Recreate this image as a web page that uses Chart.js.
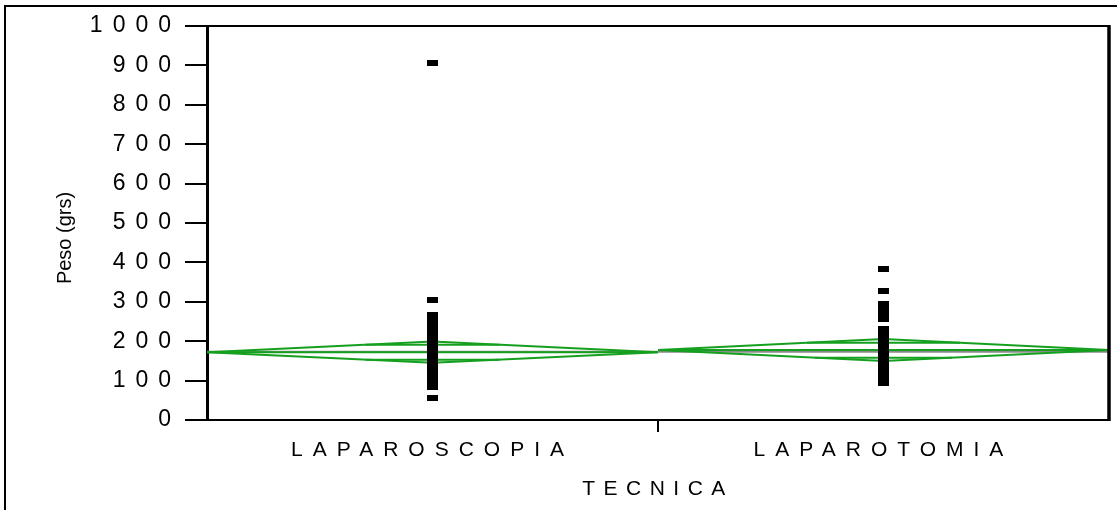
<!DOCTYPE html>
<html><head><meta charset="utf-8">
<script src="https://cdn.jsdelivr.net/npm/chart.js@4.4.1/dist/chart.umd.min.js"></script>
<style>html,body{margin:0;padding:0;background:#fff}#wrap{width:1117px;height:510px;position:relative}</style>
</head><body><div id="wrap"><canvas id="c" width="1117" height="510"></canvas></div>
<script>
// ---- data ----
const categories = ['LAPAROSCOPIA', 'LAPAROTOMIA'];
const yTickValues = [0, 100, 200, 300, 400, 500, 600, 700, 800, 900, 1000];
const laparoscopiaPeso = [905, 305, 266, 259, 252, 246, 240, 233, 226, 221, 215, 208, 203, 198, 192, 187, 181, 176, 171, 166, 160, 154, 149, 143, 138, 132, 127, 121, 115, 110, 104, 98, 92, 88, 84, 55];
const laparotomiaPeso = [382, 327, 294, 283, 271, 262, 256, 231, 224, 217, 210, 203, 197, 191, 185, 179, 172, 166, 160, 153, 147, 140, 134, 128, 121, 115, 108, 102, 95];
const groupMeans = [172, 177.5];
const diamondUpper = [199, 205.5];
const diamondLower = [145, 149.5];
const overlapUpper = [191, 196];
const overlapLower = [153, 158];
const grandMean = 173;
const yTitle = 'Peso (grs)';
const xTitle = 'TECNICA';

const GREEN = '#14a01e';

// ---- font choice (condensed face if installed) ----
function hasFont(name) {
  const c = document.createElement('canvas').getContext('2d');
  c.font = '40px monospace';
  const w1 = c.measureText('LAPAROSCOPIA mmmwww').width;
  c.font = '40px "' + name + '", monospace';
  const w2 = c.measureText('LAPAROSCOPIA mmmwww').width;
  return Math.abs(w1 - w2) > 0.5;
}
const NARROW = hasFont('Liberation Sans Narrow');
const BASE = '"Liberation Sans", Arial, sans-serif';
const NARROW_FAM = NARROW ? '"Liberation Sans Narrow", "Liberation Sans", sans-serif' : BASE;
const xLabelSize = NARROW ? 22 : 21;
const xLabelSpacing = NARROW ? '12px' : '10px';
const xTitleSpacing = NARROW ? '10.5px' : '8.5px';
const yTitleFont = NARROW ? '24px ' + NARROW_FAM : '20px ' + BASE;

// marker: small black rectangle
const marker = document.createElement('canvas');
marker.width = 11; marker.height = 6;
marker.getContext('2d').fillRect(0, 0, 11, 6);

const pointData = [];
[laparoscopiaPeso, laparotomiaPeso].forEach((arr, i) => arr.forEach(v => pointData.push({x: i + 0.5, y: v})));

const datasets = [{
  label: 'Peso', data: pointData, pointStyle: marker, pointRadius: 5, showLine: false
}];
categories.forEach((c, i) => {
  const m = groupMeans[i], hi = diamondUpper[i], lo = diamondLower[i];
  datasets.push({
    data: [{x: i, y: m}, {x: i + 0.5, y: hi}, {x: i + 1, y: m}, {x: i + 0.5, y: lo}, {x: i, y: m}],
    showLine: true, borderColor: GREEN, borderWidth: 2, pointRadius: 0, tension: 0
  });
  datasets.push({
    data: [{x: i, y: m}, {x: i + 1, y: m}],
    showLine: true, borderColor: GREEN, borderWidth: 2, pointRadius: 0
  });
  const hu = 0.5 * (1 - (overlapUpper[i] - m) / (hi - m));
  const hl = 0.5 * (1 - (m - overlapLower[i]) / (m - lo));
  datasets.push({
    data: [{x: i + 0.5 - hu, y: overlapUpper[i]}, {x: i + 0.5 + hu, y: overlapUpper[i]}, {x: null, y: null},
           {x: i + 0.5 - hl, y: overlapLower[i]}, {x: i + 0.5 + hl, y: overlapLower[i]}],
    showLine: true, spanGaps: false, borderColor: GREEN, borderWidth: 2, pointRadius: 0
  });
});
datasets.push({
  data: [{x: 0, y: grandMean}, {x: 2, y: grandMean}],
  showLine: true, borderColor: '#8a8a8a', borderWidth: 2, pointRadius: 0
});

function wrapScale(scale, labelSpacing, titleSpacing) {
  if (scale.__wrapped) return;
  scale.__wrapped = true;
  const dl = scale.drawLabels.bind(scale);
  const dt = scale.drawTitle.bind(scale);
  scale.drawLabels = function (a) { const ctx = this.ctx; ctx.save(); ctx.letterSpacing = labelSpacing; dl(a); ctx.restore(); };
  scale.drawTitle = function (a) { const ctx = this.ctx; ctx.save(); ctx.letterSpacing = titleSpacing; dt(a); ctx.restore(); };
}

const framePlugin = {
  id: 'frame',
  beforeDraw(c) {
    wrapScale(c.scales.x, xLabelSpacing, xTitleSpacing);
    wrapScale(c.scales.y, '10px', '0px');
  },
  afterDraw(c) {
    const ctx = c.ctx, a = c.chartArea;
    ctx.save();
    ctx.strokeStyle = '#000';
    ctx.lineWidth = 2;
    ctx.beginPath(); ctx.moveTo(a.left, a.top); ctx.lineTo(a.right, a.top); ctx.stroke();
    ctx.lineWidth = 3.5;
    ctx.beginPath(); ctx.moveTo(a.right, a.top - 1); ctx.lineTo(a.right, a.bottom + 1); ctx.stroke();
    ctx.lineWidth = 2;
    ctx.beginPath(); ctx.moveTo(5, 510); ctx.lineTo(5, 6); ctx.lineTo(1117, 6); ctx.stroke();
    // y title
    ctx.fillStyle = '#000';
    ctx.font = yTitleFont;
    ctx.translate(71, 238);
    ctx.rotate(-Math.PI / 2);
    ctx.textAlign = 'center';
    ctx.textBaseline = 'alphabetic';
    ctx.fillText(yTitle, 0, 0);
    ctx.restore();
  }
};

Chart.defaults.color = '#000';
Chart.defaults.font.family = BASE;

new Chart(document.getElementById('c'), {
  type: 'scatter',
  data: { datasets },
  plugins: [framePlugin],
  options: {
    responsive: false, animation: false, events: [],
    layout: { padding: { top: 26, right: 8, left: 0, bottom: 0 } },
    plugins: { legend: { display: false }, tooltip: { enabled: false } },
    scales: {
      x: {
        type: 'linear', min: 0, max: 2,
        afterBuildTicks: s => { s.ticks = [{value: 0.5}, {value: 1}, {value: 1.5}]; },
        afterFit: s => { s.height = 90; },
        ticks: {
          font: { size: xLabelSize, family: NARROW_FAM }, padding: 6, maxRotation: 0, autoSkip: false,
          callback: v => (v % 1 === 0.5 ? categories[Math.floor(v)] : '')
        },
        grid: {
          drawOnChartArea: false, tickLength: 12, lineWidth: 2,
          color: ctx => (ctx.tick && ctx.tick.value === 1 ? '#000' : 'rgba(0,0,0,0)')
        },
        border: { display: true, color: '#000', width: 2 },
        title: { display: true, text: xTitle, font: { size: xLabelSize, family: NARROW_FAM }, padding: { top: 0, bottom: 8 } }
      },
      y: {
        type: 'linear', min: 0, max: 1000,
        afterBuildTicks: s => { s.ticks = yTickValues.map(v => ({value: v})); },
        afterFit: s => { s.width = 207; },
        ticks: { font: { size: 23 }, padding: 4, callback: v => String(v) },
        grid: { drawOnChartArea: false, tickLength: 22, lineWidth: 2, color: '#000' },
        border: { display: true, color: '#000', width: 3 },
        title: { display: false }
      }
    }
  }
});
</script></body></html>
